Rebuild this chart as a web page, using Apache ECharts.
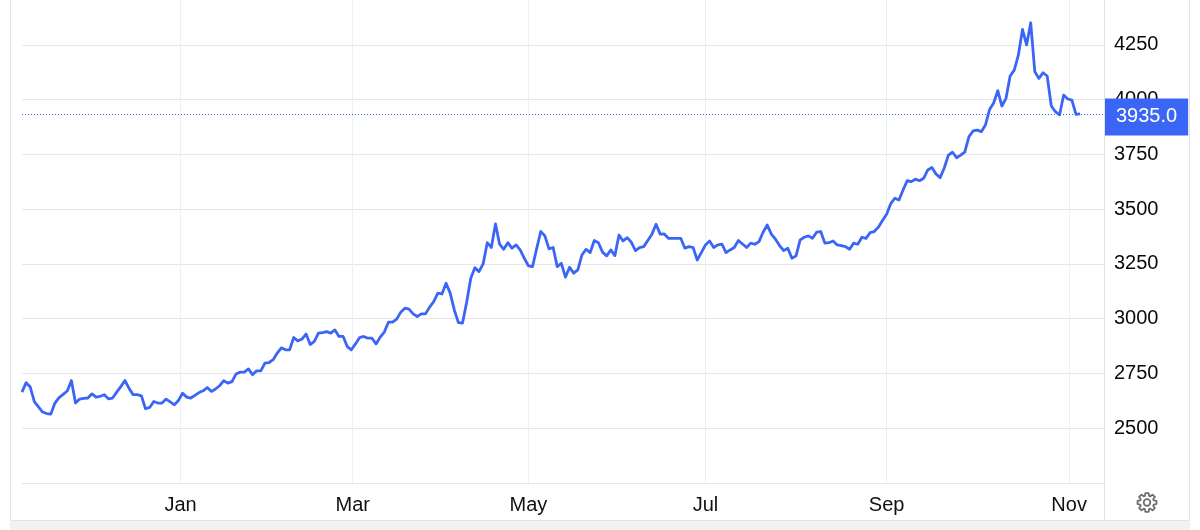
<!DOCTYPE html>
<html>
<head>
<meta charset="utf-8">
<script src="https://cdn.jsdelivr.net/npm/echarts@6/dist/echarts.min.js"></script>
<style>
html,body{margin:0;padding:0;background:#ffffff;}
#chart{width:1200px;height:530px;}
</style>
</head>
<body>
<div id="chart"></div>
<script>
// ---- data ----
const startDate = '2024-11-06';
const closedDays = ['2024-12-25', '2025-01-01', '2025-04-18'];
const monthTickDates = ['2025-01-01', '2025-03-01', '2025-05-01', '2025-07-01', '2025-09-01', '2025-11-01'];
const monthTickLabels = ['Jan', 'Mar', 'May', 'Jul', 'Sep', 'Nov'];
const yTickLabels = [2500, 2750, 3000, 3250, 3500, 3750, 4000, 4250];
const yAxisMin = 2250;
const yAxisMax = 4455;

const goldPrice = [
  2665, 2708, 2688, 2622, 2598, 2574, 2567, 2565, 2615, 2640,
  2655, 2670, 2718, 2615, 2633, 2636, 2638, 2657, 2642, 2646,
  2653, 2634, 2638, 2665, 2690, 2718, 2682, 2653, 2653, 2648,
  2589, 2595, 2622, 2615, 2615, 2633, 2620, 2607, 2627, 2660,
  2642, 2638, 2650, 2663, 2671, 2686, 2668, 2679, 2694, 2717,
  2706, 2713, 2748, 2756, 2756, 2771, 2744, 2762, 2762, 2797,
  2800, 2813, 2843, 2867, 2858, 2858, 2914, 2899, 2907, 2930,
  2882, 2896, 2934, 2937, 2941, 2934, 2949, 2919, 2919, 2873,
  2858, 2885, 2914, 2919, 2911, 2911, 2885, 2916, 2939, 2984,
  2984, 2998, 3030, 3048, 3044, 3022, 3010, 3022, 3022, 3053,
  3078, 3117, 3113, 3162, 3117, 3040, 2982, 2980, 3075, 3185,
  3233, 3215, 3250, 3347, 3325, 3433, 3340, 3317, 3347, 3322,
  3337, 3314, 3276, 3241, 3238, 3320, 3398, 3378, 3319, 3325,
  3238, 3253, 3190, 3235, 3208, 3223, 3291, 3317, 3302, 3357,
  3347, 3304, 3287, 3314, 3288, 3382, 3355, 3370, 3349, 3311,
  3325, 3329, 3357, 3386, 3431, 3386, 3387, 3367, 3367, 3367,
  3367, 3322, 3329, 3325, 3268, 3302, 3337, 3355, 3325, 3337,
  3340, 3302, 3314, 3325, 3357, 3341, 3325, 3345, 3340, 3352,
  3395, 3428, 3386, 3363, 3334, 3311, 3322, 3276, 3287, 3360,
  3372, 3378, 3367, 3395, 3398, 3345, 3347, 3355, 3337, 3334,
  3329, 3317, 3345, 3340, 3372, 3367, 3393, 3398, 3418, 3448,
  3477, 3525, 3550, 3542, 3588, 3630, 3626, 3637, 3630, 3641,
  3679, 3690, 3661, 3644, 3688, 3747, 3760, 3735, 3747, 3762,
  3831, 3857, 3861, 3854, 3884, 3955, 3985, 4041, 3971, 4006,
  4108, 4135, 4203, 4321, 4250, 4351, 4127, 4097, 4123, 4108,
  3971, 3945, 3930, 4021, 4003, 3998, 3933, 3935
];

// ---- trading-day calendar (x = trading-day index) ----
function tradingDays(start, n, skip) {
  const out = [];
  const d = new Date(start + 'T00:00:00Z');
  while (out.length < n) {
    const wd = d.getUTCDay();
    const s = d.toISOString().slice(0, 10);
    if (wd !== 0 && wd !== 6 && skip.indexOf(s) < 0) out.push(d.getTime());
    d.setUTCDate(d.getUTCDate() + 1);
  }
  return out;
}
const dayTimes = tradingDays(startDate, goldPrice.length, closedDays);
function dateToIndex(s) {
  const t = new Date(s + 'T00:00:00Z').getTime();
  for (let k = 0; k < dayTimes.length - 1; k++) {
    if (t >= dayTimes[k] && t < dayTimes[k + 1]) {
      return k + (t - dayTimes[k]) / (dayTimes[k + 1] - dayTimes[k]);
    }
  }
  return dayTimes.length - 1;
}
const monthTickPos = monthTickDates.map(dateToIndex);
const seriesData = goldPrice.map((v, i) => [i, v]);
const lastValue = goldPrice[goldPrice.length - 1];

// ---- styles ----
const BLUE = '#3b66f5';
const GRID = '#e6e6e6';
const VGRID = '#edf0f3';
const FONT = "'Liberation Sans', Arial, Helvetica, sans-serif";

// gear icon outline (decoration)
function gearPoints(cx, cy, R, r, teeth) {
  const pts = [];
  const step = Math.PI * 2 / teeth;
  for (let k = 0; k < teeth; k++) {
    const a = k * step - Math.PI / 2;
    const angs = [[a - 0.30, r], [a - 0.17, R], [a + 0.17, R], [a + 0.30, r]];
    angs.forEach(([ang, rad]) => pts.push([cx + rad * Math.cos(ang), cy + rad * Math.sin(ang)]));
  }
  return pts;
}

const chart = echarts.init(document.getElementById('chart'), null, {renderer: 'canvas'});
chart.setOption({
  animation: false,
  backgroundColor: '#ffffff',
  grid: {left: 22, right: 96, top: 0, bottom: 47, containLabel: false},
  xAxis: {
    type: 'value',
    min: 0,
    max: 262.8,
    axisLine: {show: true, lineStyle: {color: GRID, width: 1}},
    axisTick: {show: false, customValues: monthTickPos},
    splitLine: {show: true, lineStyle: {color: VGRID, width: 1}},
    axisLabel: {
      customValues: monthTickPos,
      margin: 12,
      color: '#111111',
      fontSize: 20,
      fontFamily: FONT,
      formatter: function (val) {
        let best = 0, bd = Infinity;
        monthTickPos.forEach((p, i) => { const dd = Math.abs(p - val); if (dd < bd) { bd = dd; best = i; } });
        return monthTickLabels[best];
      }
    }
  },
  yAxis: {
    type: 'value',
    position: 'right',
    min: yAxisMin,
    max: yAxisMax,
    axisLine: {show: false},
    axisTick: {show: true, length: 6, inside: false, lineStyle: {color: GRID}, customValues: [yAxisMin].concat(yTickLabels)},
    splitLine: {show: true, lineStyle: {color: GRID, width: 1}},
    axisLabel: {
      customValues: yTickLabels,
      margin: 10,
      color: '#0a0a0a',
      fontSize: 20,
      fontFamily: FONT,
      formatter: function (v) { return String(v); }
    }
  },
  series: [{
    type: 'line',
    data: seriesData,
    showSymbol: false,
    symbol: 'none',
    clip: false,
    lineStyle: {color: BLUE, width: 2.8, join: 'round'},
    itemStyle: {color: BLUE},
    markLine: {
      silent: true,
      symbol: 'none',
      animation: false,
      lineStyle: {color: BLUE, width: 1, type: [1, 2], opacity: 1},
      label: {
        show: true,
        position: 'end',
        distance: 1,
        offset: [0, 3],
        formatter: function (p) { return Number(p.value).toFixed(1); },
        backgroundColor: BLUE,
        color: '#ffffff',
        fontSize: 20,
        fontFamily: FONT,
        lineHeight: 20,
        padding: [9, 11, 8, 11],
        borderRadius: 0
      },
      emphasis: {disabled: true},
      data: [{yAxis: lastValue, lineStyle: {color: BLUE, width: 1, type: [1, 2]}}]
    }
  }],
  graphic: [
    {type: 'line', silent: true, z: 0, shape: {x1: 10.5, y1: 0, x2: 10.5, y2: 520}, style: {stroke: '#e2e2e2', lineWidth: 1}},
    {type: 'line', silent: true, z: 0, shape: {x1: 1104.5, y1: 0, x2: 1104.5, y2: 520}, style: {stroke: '#e2e2e2', lineWidth: 1}},
    {type: 'line', silent: true, z: 0, shape: {x1: 1189.5, y1: 0, x2: 1189.5, y2: 520}, style: {stroke: '#e2e2e2', lineWidth: 1}},
    {type: 'rect', silent: true, z: 0, shape: {x: 10, y: 520, width: 1180, height: 10}, style: {fill: '#f2f2f2', stroke: null}},
    {type: 'line', silent: true, z: 0, shape: {x1: 10, y1: 520.5, x2: 1190, y2: 520.5}, style: {stroke: '#e4e4e4', lineWidth: 1}},
    {type: 'polygon', silent: true, z: 10, shape: {points: gearPoints(1147, 502.5, 9.6, 7.0, 8)}, style: {fill: 'none', stroke: '#6e6e6e', lineWidth: 1.8, lineJoin: 'round'}},
    {type: 'circle', silent: true, z: 10, shape: {cx: 1147, cy: 502.5, r: 3.3}, style: {fill: 'none', stroke: '#6e6e6e', lineWidth: 1.8}}
  ]
});
</script>
</body>
</html>
